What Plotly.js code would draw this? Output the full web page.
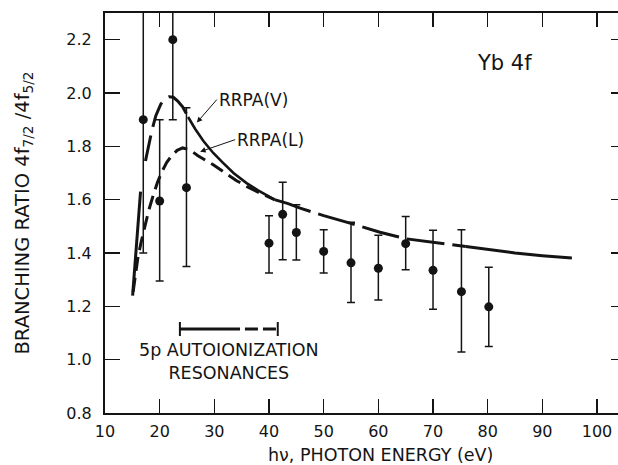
<!DOCTYPE html>
<html>
<head>
<meta charset="utf-8">
<script src="https://cdn.plot.ly/plotly-3.0.1.min.js"></script>
<style>
  html, body { margin: 0; padding: 0; background: #ffffff; overflow: hidden; }
  #frame { width: 618px; height: 465px; overflow: hidden; position: relative; }
  #chart { width: 626px; height: 465px; }
</style>
</head>
<body>
<div id="frame"><div id="chart"></div></div>
<script>
// Measured data: photon energy (eV), branching ratio, error
const expEnergy = [17, 20, 22.4, 24.9, 40, 42.5, 45, 50, 55, 60, 65, 70, 75.2, 80.2];
const expRatio  = [1.90, 1.595, 2.20, 1.645, 1.437, 1.545, 1.477, 1.406, 1.363, 1.343, 1.435, 1.335, 1.255, 1.198];
const expErrUp  = [0.50, 0.305, 0.30, 0.30, 0.103, 0.12, 0.104, 0.081, 0.152, 0.124, 0.102, 0.15, 0.232, 0.149];
const expErrDn  = [0.50, 0.30, 0.30, 0.296, 0.112, 0.17, 0.103, 0.081, 0.149, 0.119, 0.098, 0.146, 0.226, 0.149];

// RRPA(V) theory, rising part (solid stroke)
const vRiseX = [15.05, 15.4, 15.8, 16.15, 16.5];
const vRiseY = [1.24, 1.34, 1.46, 1.55, 1.63];
// RRPA(V) theory, resonance region (long dashes)
const vResX = [17.4, 18.0, 18.6, 19.3, 20.2, 21.0, 21.7, 22.5, 23.3, 24.2, 25.2];
const vResY = [1.745, 1.81, 1.862, 1.915, 1.958, 1.98, 1.986, 1.984, 1.97, 1.948, 1.91];
// RRPA(V) theory, above resonances (solid)
const vMainX = [25.2, 26.5, 28.0, 29.8, 31.5, 33.5, 35.9, 38.0, 41.0];
const vMainY = [1.91, 1.865, 1.82, 1.775, 1.74, 1.70, 1.662, 1.635, 1.60];
// RRPA(L) theory (dashed)
const lX = [15.15, 15.5, 16.0, 16.6, 17.3, 18.0, 18.8, 19.6, 20.4, 21.3, 22.2, 23.2, 24.2, 25.5, 27.0, 28.5, 29.8, 32.0, 34.0, 35.9, 38.0, 41.0];
const lY = [1.255, 1.31, 1.38, 1.44, 1.50, 1.56, 1.615, 1.665, 1.705, 1.74, 1.765, 1.785, 1.794, 1.787, 1.765, 1.747, 1.731, 1.70, 1.672, 1.65, 1.628, 1.60];
// common high-energy tail, dashed part then solid part
const tailDashX = [41.0, 43.5, 45.7, 50.0, 54.8, 60.3, 65.2, 70.7, 76.0];
const tailDashY = [1.60, 1.585, 1.568, 1.54, 1.512, 1.478, 1.453, 1.437, 1.424];
const tailSolidX = [76.0, 80.1, 85.0, 90.0, 95.4];
const tailSolidY = [1.424, 1.413, 1.40, 1.39, 1.381];

// 5p autoionization resonance range marker
const resSolidX = [23.7, 34.7];
const resDashX = [35.6, 41.6];
const resCapX = [23.7, 41.6];
const resLevel = 1.115;

const xTicks = [10, 20, 30, 40, 50, 60, 70, 80, 90, 100];
const yTicks = [0.8, 1.0, 1.2, 1.4, 1.6, 1.8, 2.0, 2.2];

const ink = '#141414';
const fontFam = 'DejaVu Sans, Verdana, sans-serif';

const traces = [
  { x: vRiseX, y: vRiseY, mode: 'lines', line: {color: ink, width: 3}, hoverinfo: 'skip' },
  { x: vResX, y: vResY, mode: 'lines', line: {color: ink, width: 3, dash: '26px,9px'}, hoverinfo: 'skip' },
  { x: vMainX, y: vMainY, mode: 'lines', line: {color: ink, width: 2.6}, hoverinfo: 'skip' },
  { x: lX, y: lY, mode: 'lines', line: {color: ink, width: 3, dash: '14px,7px'}, hoverinfo: 'skip' },
  { x: tailDashX, y: tailDashY, mode: 'lines', line: {color: ink, width: 3, dash: '38px,8px'}, hoverinfo: 'skip' },
  { x: tailSolidX, y: tailSolidY, mode: 'lines', line: {color: ink, width: 3}, hoverinfo: 'skip' },
  { x: resSolidX, y: resSolidX.map(() => resLevel), mode: 'lines', line: {color: ink, width: 3}, hoverinfo: 'skip' },
  { x: resDashX, y: resDashX.map(() => resLevel), mode: 'lines', line: {color: ink, width: 3, dash: '13px,5px'}, hoverinfo: 'skip' },
  { x: resCapX, y: resCapX.map(() => resLevel), mode: 'markers',
    marker: {symbol: 'line-ns', size: 10, line: {color: ink, width: 2}}, hoverinfo: 'skip' },
  { x: expEnergy, y: expRatio, mode: 'markers',
    marker: {symbol: 'circle', size: 9, color: ink},
    error_y: {type: 'data', symmetric: false, array: expErrUp, arrayminus: expErrDn,
              color: ink, thickness: 1.5, width: 4},
    hoverinfo: 'skip' }
];

// plot area runs past the right edge of the 618 px window, as in the cropped original
const layout = {
  width: 626, height: 465,
  margin: {l: 105, r: 0, t: 13, b: 52},
  paper_bgcolor: '#ffffff', plot_bgcolor: '#ffffff',
  showlegend: false,
  font: {family: fontFam, size: 16, color: ink},
  xaxis: {
    range: [10, 105.3], tickvals: xTicks, ticktext: xTicks.map(String),
    ticks: 'inside', ticklen: 14, tickwidth: 1.5, tickcolor: ink,
    showline: true, linewidth: 2, linecolor: ink, mirror: 'ticks',
    showgrid: false, zeroline: false,
    tickfont: {family: fontFam, size: 16, color: ink},
    ticklabelstandoff: 3,
    title: {text: ''}
  },
  yaxis: {
    range: [0.8, 2.3], tickvals: yTicks, ticktext: yTicks.map(v => v.toFixed(1)),
    ticks: 'inside', ticklen: 15, tickwidth: 1.5, tickcolor: ink,
    showline: true, linewidth: 2, linecolor: ink, mirror: 'ticks',
    showgrid: false, zeroline: false,
    tickfont: {family: fontFam, size: 16, color: ink},
    ticklabelstandoff: 8,
    title: {text: 'BRANCHING RATIO 4f<sub>7/2</sub> /4f<sub>5/2</sub>', font: {family: fontFam, size: 19.5, color: ink}, standoff: 32}
  },
  annotations: [
    {x: 0.528, y: -0.106, xref: 'paper', yref: 'paper', text: 'h\u03bd, PHOTON ENERGY (eV)', showarrow: false,
     xanchor: 'center', yanchor: 'middle', font: {family: fontFam, size: 17.5, color: ink}},
    {x: 83.0, y: 2.114, xref: 'x', yref: 'y', text: 'Yb 4f', showarrow: false,
     font: {family: fontFam, size: 21, color: ink}},
    {x: 26.8, y: 1.889, xref: 'x', yref: 'y', text: 'RRPA(V)', showarrow: true,
     ax: 20, ay: -23, xanchor: 'left', yanchor: 'middle',
     arrowhead: 2, arrowsize: 1.1, arrowwidth: 1, arrowcolor: ink, standoff: 0,
     font: {family: fontFam, size: 17, color: ink}},
    {x: 27.4, y: 1.780, xref: 'x', yref: 'y', text: 'RRPA(L)', showarrow: true,
     ax: 35, ay: -12, xanchor: 'left', yanchor: 'middle',
     arrowhead: 2, arrowsize: 1.1, arrowwidth: 1, arrowcolor: ink, standoff: 0,
     font: {family: fontFam, size: 17, color: ink}},
    {x: 32.7, y: 0.995, xref: 'x', yref: 'y', text: '5p AUTOIONIZATION<br>RESONANCES', showarrow: false,
     align: 'center', font: {family: fontFam, size: 17.5, color: ink}}
  ]
};

Plotly.newPlot('chart', traces, layout, {staticPlot: true, displayModeBar: false});
</script>
</body>
</html>
